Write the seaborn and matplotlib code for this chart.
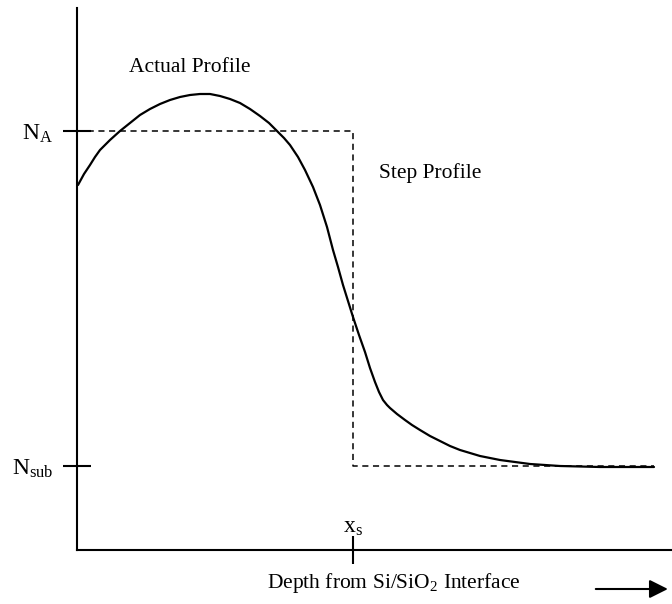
import matplotlib
matplotlib.use("Agg")
import matplotlib.pyplot as plt
import seaborn as sns

# depth / concentration values (arbitrary units)
actual_depth = [1, 7, 13, 18, 23, 33, 43, 53, 63, 73, 83, 93, 103, 113, 123,
                133, 143, 153, 163, 173, 183, 192, 200, 207, 213, 221, 228,
                236, 243, 250, 256, 261, 266, 271, 276, 282, 288, 293, 298,
                302, 306, 310, 313, 320, 328, 335, 343, 353, 363, 373, 383,
                393, 403, 413, 423, 438, 453, 468, 483, 503, 523, 550, 577]
actual_conc = [365, 376, 385, 393, 400, 410, 419, 427, 435, 441, 446, 450, 453,
               455, 456, 456, 454, 451, 447, 441, 434, 427, 419, 412, 405, 393,
               380, 363, 345, 323, 300, 283, 265, 249, 233, 215, 198, 182, 168,
               158, 150, 145, 142, 136, 130, 125, 120, 114, 109, 104, 100, 97,
               94, 92, 90, 88, 86, 85, 84, 83.5, 83, 83, 83]

N_A = 419
N_sub = 84
x_s = 276
step_end = 577
step_depth = [0, x_s, x_s, step_end]
step_conc = [N_A, N_A, N_sub, N_sub]

sns.set_style("white")
plt.rcParams["font.family"] = ["Liberation Serif", "DejaVu Serif"]
plt.rcParams["mathtext.fontset"] = "custom"
plt.rcParams["mathtext.rm"] = "Liberation Serif"
plt.rcParams["mathtext.it"] = "Liberation Serif:italic"
plt.rcParams["text.color"] = "black"
plt.rcParams["xtick.color"] = "black"
plt.rcParams["ytick.color"] = "black"

fig = plt.figure(figsize=(6.72, 6.04), dpi=100)
ax = fig.add_axes([77 / 672, 54 / 604, 595 / 672, 542 / 604])

sns.lineplot(x=actual_depth, y=actual_conc, estimator=None, sort=False,
             color="black", linewidth=1.6, ax=ax)
sns.lineplot(x=step_depth, y=step_conc, estimator=None, sort=False,
             color="black", linewidth=1.1, ax=ax)
ax.lines[-1].set_linestyle((0, (4, 3)))

ax.set_xlim(0, 595)
ax.set_ylim(0, 542)
sns.despine(ax=ax)
for s in ["left", "bottom"]:
    ax.spines[s].set_linewidth(1.5)
    ax.spines[s].set_color("black")

ax.set_yticks([N_sub, N_A])
ax.set_yticklabels([r"$\mathrm{N_{sub}}$", r"$\mathrm{N_A}$"], fontsize=17)
ax.set_xticks([x_s])
ax.set_xticklabels([""])
ax.tick_params(axis="both", left=True, bottom=True, direction="inout",
               length=20, width=1.5, color="black", labelcolor="black", pad=7)

ax.text(x_s, 23, r"$\mathrm{x_s}$", fontsize=17, ha="center", va="center")
ax.text(113, 483, "Actual Profile", fontsize=15.5, ha="center", va="center")
ax.text(353, 377, "Step Profile", fontsize=15.5, ha="center", va="center")

fig.text(394 / 672, 1 - 583 / 604, r"Depth from Si/SiO$_\mathrm{2}$ Interface",
         fontsize=15.5, ha="center", va="center")
ax.annotate("", xy=(0.998, 1 - 589 / 604), xytext=(593 / 672, 1 - 589 / 604),
            xycoords="figure fraction", textcoords="figure fraction",
            arrowprops=dict(arrowstyle="-|>", color="black", lw=1.5,
                            mutation_scale=28))

fig.savefig("out.png", dpi=100)
